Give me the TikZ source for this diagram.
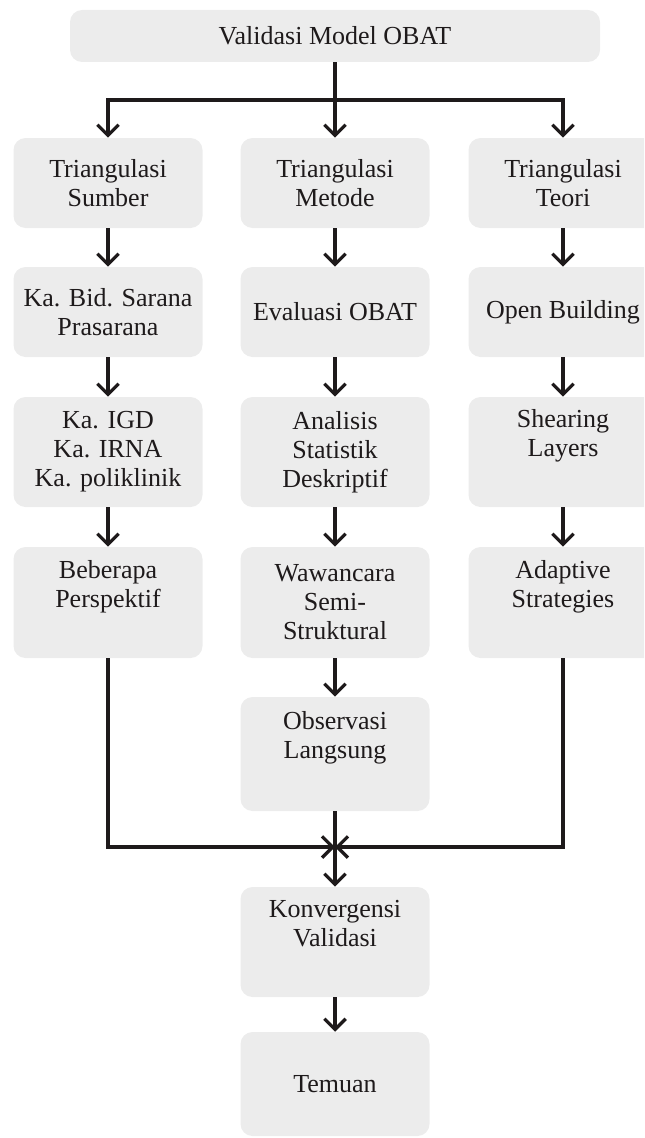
\documentclass[tikz,border=0pt]{standalone}
\usepackage{fontspec}
\setmainfont{Liberation Serif}
\usetikzlibrary{arrows.meta}
\definecolor{boxfill}{HTML}{ECECEC}
\definecolor{ink}{HTML}{1E1A1B}
\begin{document}
\begin{tikzpicture}[x=0.75pt,y=-0.75pt,
  box/.style={fill=boxfill, draw=none, rounded corners=9pt, inner sep=0pt,
    minimum width=141.75pt, align=center, text=ink,
    font=\fontsize{19.5}{21.75}\selectfont},
  conn/.style={draw=ink, line width=2.5pt},
  arr/.style={conn, -{Straight Barb[length=8pt,width=16pt]}}]
\useasboundingbox (0,0) rectangle (644,1138);
\clip (0,0) rectangle (644,1138);
% nodes
\node[box, minimum width=397.5pt, minimum height=39pt] (top) at (335,36) {Validasi Model OBAT};
\node[box, minimum height=67.5pt] (l1) at (108,183) {Triangulasi\\Sumber};
\node[box, minimum height=67.5pt] (m1) at (335,183) {Triangulasi\\Metode};
\node[box, minimum height=67.5pt] (r1) at (563,183) {Triangulasi\\Teori};
\node[box, minimum height=67.5pt] (l2) at (108,312) {Ka. Bid. Sarana\\Prasarana};
\node[box, minimum height=67.5pt] (m2) at (335,312) {Evaluasi OBAT};
\node[box, minimum height=67.5pt] (r2) at (563,312) {Open Building};
\node[box, minimum height=82.5pt] (l3) at (108,452) {Ka. IGD\\Ka. IRNA\\Ka. poliklinik};
\node[box, minimum height=82.5pt] (m3) at (335,452) {Analisis\\Statistik\\Deskriptif};
\node[box, minimum height=82.5pt] (r3) at (563,452) {Shearing\\Layers\\\strut};
\node[box, minimum height=83.25pt] (l4) at (108,602.5) {Beberapa\\Perspektif\\\strut};
\node[box, minimum height=83.25pt] (m4) at (335,602.5) {Wawancara\\Semi-\\Struktural};
\node[box, minimum height=83.25pt] (r4) at (563,602.5) {Adaptive\\Strategies\\\strut};
\node[box, minimum height=85.5pt] (m5) at (335,754) {Observasi\\Langsung\\\strut};
\node[box, minimum height=82.5pt] (konv) at (335,942) {Konvergensi\\Validasi\\\strut};
\node[box, minimum height=78pt] (tem) at (335,1084) {Temuan};
\coordinate (split) at (335,100);
\coordinate (join) at (335,847);
% connectors
\draw[arr] (top.south) -- (m1.north);
\draw[arr] (split) -| (l1.north);
\draw[arr] (split) -| (r1.north);
\draw[arr] (l1) -- (l2);
\draw[arr] (m1) -- (m2);
\draw[arr] (r1) -- (r2);
\draw[arr] (l2) -- (l3);
\draw[arr] (m2) -- (m3);
\draw[arr] (r2) -- (r3);
\draw[arr] (l3) -- (l4);
\draw[arr] (m3) -- (m4);
\draw[arr] (r3) -- (r4);
\draw[arr] (m4) -- (m5);
\draw[arr] (l4.south) |- (join);
\draw[arr] (r4.south) |- (join);
\draw[arr] (m5) -- (konv);
\draw[arr] (konv) -- (tem);
\end{tikzpicture}
\end{document}
